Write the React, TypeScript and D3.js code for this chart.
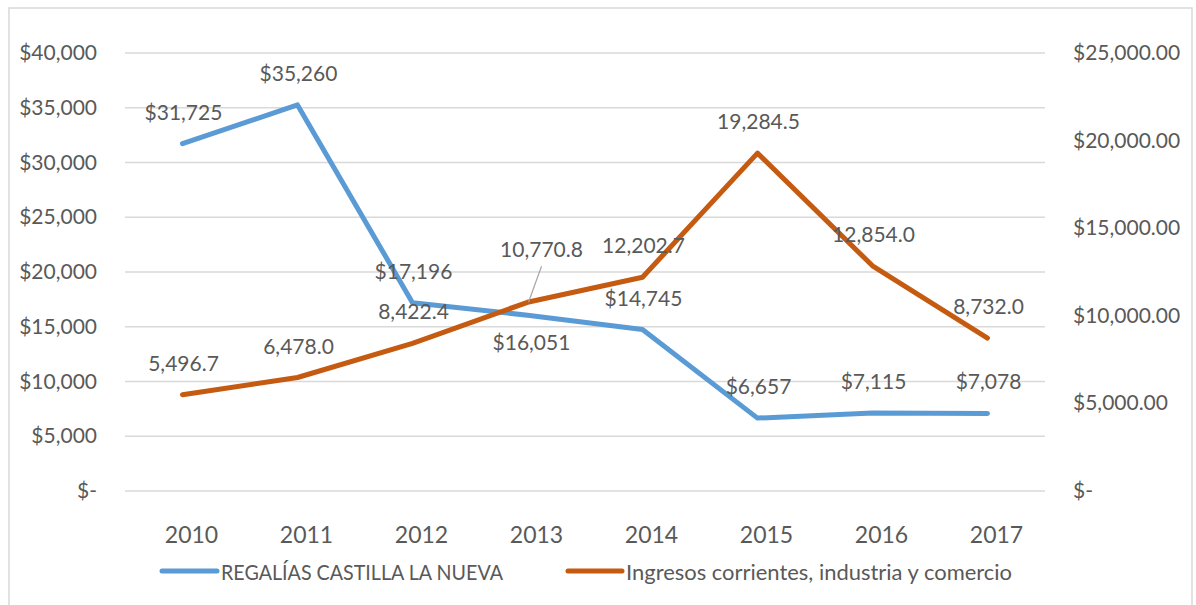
import React from "react";
import * as d3 from "d3";

const years = ["2010", "2011", "2012", "2013", "2014", "2015", "2016", "2017"];
const regalias = [31725, 35260, 17196, 16051, 14745, 6657, 7115, 7078];
const ingresos = [5496.7, 6478.0, 8422.4, 10770.8, 12202.7, 19284.5, 12854.0, 8732.0];
const leftTicks = [0, 5000, 10000, 15000, 20000, 25000, 30000, 35000, 40000];
const rightTicks = [0, 5000, 10000, 15000, 20000, 25000];
const seriesNames = ["REGALÍAS CASTILLA LA NUEVA", "Ingresos corrientes, industria y comercio"];
// label placement per point: "above" | "below" | "leader"
const regaliasLabelPos = ["above", "above", "above", "below", "above", "above", "above", "above"];
const ingresosLabelPos = ["above", "above", "above", "leader", "above", "above", "above", "above"];

const W = 1196;
const H = 605;
const FONT = "Lato, 'Open Sans', sans-serif";
const TEXT = "#595959";
const BLUE = "#5B9BD5";
const ORANGE = "#C55A11";
const GRID = "#D9D9D9";

const plot = { left: 125, right: 1045, top: 53, bottom: 491 };

export default function App() {
  const x = d3.scaleBand<string>().domain(years).range([plot.left, plot.right]);
  const cx = (y: string) => (x(y) as number) + x.bandwidth() / 2;
  const yL = d3.scaleLinear().domain([0, 40000]).range([plot.bottom, plot.top]);
  const yR = d3.scaleLinear().domain([0, 25000]).range([plot.bottom, plot.top]);

  const fmtLeft = (v: number) => (v === 0 ? "$-" : "$" + d3.format(",.0f")(v));
  const fmtRight = (v: number) => (v === 0 ? "$-" : "$" + d3.format(",.2f")(v));
  const fmtBlue = (v: number) => "$" + d3.format(",.0f")(v);
  const fmtOrange = (v: number) => d3.format(",.1f")(v);

  const lineL = d3
    .line<number>()
    .x((_, i) => cx(years[i]))
    .y((d) => yL(d));
  const lineR = d3
    .line<number>()
    .x((_, i) => cx(years[i]))
    .y((d) => yR(d));

  const labelY = (py: number, pos: string) =>
    pos === "below" ? py + 28 + 7 : pos === "leader" ? py - 52 + 7 : py - 31 + 7;
  const labelX = (px: number, pos: string) =>
    pos === "below" ? px + 4 : pos === "leader" ? px + 14 : px + 1;

  return (
    <svg
      width={W}
      height={H}
      style={{ position: "absolute", left: 0, top: 0, background: "#fff" }}
      fontFamily={FONT}
    >
      <rect x={9} y={8} width={1183} height={610} fill="#fff" stroke={GRID} strokeWidth={1.5} />

      {leftTicks.map((t) => (
        <line
          key={"g" + t}
          x1={plot.left}
          x2={plot.right}
          y1={yL(t)}
          y2={yL(t)}
          stroke={GRID}
          strokeWidth={1.5}
        />
      ))}

      {leftTicks.map((t) => (
        <text
          key={"l" + t}
          x={97}
          y={yL(t) + 7}
          textAnchor="end"
          fontSize={21}
          fill={TEXT}
        >
          {fmtLeft(t)}
        </text>
      ))}

      {rightTicks.map((t) => (
        <text key={"r" + t} x={1073} y={yR(t) + 7} fontSize={21} fill={TEXT}>
          {fmtRight(t)}
        </text>
      ))}

      {years.map((yr) => (
        <text
          key={"x" + yr}
          x={cx(yr) + 9}
          y={543}
          textAnchor="middle"
          fontSize={23}
          fill={TEXT}
        >
          {yr}
        </text>
      ))}

      <path
        d={lineL(regalias) || ""}
        fill="none"
        stroke={BLUE}
        strokeWidth={5}
        strokeLinecap="round"
        strokeLinejoin="round"
      />
      <path
        d={lineR(ingresos) || ""}
        fill="none"
        stroke={ORANGE}
        strokeWidth={5}
        strokeLinecap="round"
        strokeLinejoin="round"
      />

      {regalias.map((v, i) => {
        const px = cx(years[i]);
        const py = yL(v);
        const pos = regaliasLabelPos[i];
        return (
          <text
            key={"bl" + i}
            x={labelX(px, pos)}
            y={labelY(py, pos)}
            textAnchor="middle"
            fontSize={21}
            fill={TEXT}
          >
            {fmtBlue(v)}
          </text>
        );
      })}

      {ingresos.map((v, i) => {
        const px = cx(years[i]);
        const py = yR(v);
        const pos = ingresosLabelPos[i];
        return (
          <g key={"ol" + i}>
            {pos === "leader" && (
              <line x1={px + 14} y1={py - 36} x2={px + 1} y2={py} stroke="#A6A6A6" strokeWidth={1.2} />
            )}
            <text
              x={labelX(px, pos)}
              y={labelY(py, pos)}
              textAnchor="middle"
              fontSize={21}
              fill={TEXT}
            >
              {fmtOrange(v)}
            </text>
          </g>
        );
      })}

      <line x1={162} x2={217} y1={571} y2={571} stroke={BLUE} strokeWidth={5} strokeLinecap="round" />
      <text x={221} y={580} fontSize={21} fill={TEXT} textLength={282} lengthAdjust="spacingAndGlyphs">
        {seriesNames[0]}
      </text>
      <line x1={568} x2={622} y1={571} y2={571} stroke={ORANGE} strokeWidth={5} strokeLinecap="round" />
      <text x={626} y={580} fontSize={21} fill={TEXT} textLength={386} lengthAdjust="spacingAndGlyphs">
        {seriesNames[1]}
      </text>
    </svg>
  );
}
